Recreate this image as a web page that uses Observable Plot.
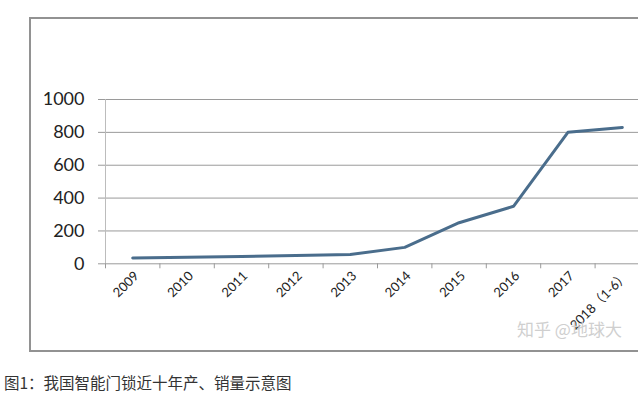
<!DOCTYPE html>
<html>
<head>
<meta charset="utf-8">
<script src="https://cdn.jsdelivr.net/npm/d3@7"></script>
<script src="https://cdn.jsdelivr.net/npm/@observablehq/plot@0.6"></script>
<style>
  html, body { margin: 0; padding: 0; background: #fff; }
  #wrap { position: relative; width: 638px; height: 396px; overflow: hidden; background: #fff; }
  #box { position: absolute; left: 29px; top: 17px; width: 640px; height: 335px; border: 2px solid #929292; box-sizing: border-box; }
  #chart { position: absolute; left: 0; top: 0; width: 660px; }
  #chart svg { max-width: none !important; }
  #wm { position: absolute; left: 517px; top: 316px; font: 17px "Noto Sans CJK SC", sans-serif; color: #cfcfcf; white-space: nowrap; }
  #cap { position: absolute; left: 4px; top: 371px; font: 15.5px "Noto Sans CJK SC", sans-serif; color: #333; white-space: nowrap; }
</style>
</head>
<body>
<div id="wrap">
  <div id="box"></div>
  <div id="chart"></div>
  <div id="wm">知乎 @地球大</div>
  <div id="cap">图1：我国智能门锁近十年产、销量示意图</div>
</div>
<script>
const categories = ["2009", "2010", "2011", "2012", "2013", "2014", "2015", "2016", "2017", "2018（1-6）"];
const values = [35, 40, 45, 50, 57, 100, 250, 350, 800, 830];
const yTicks = [0, 200, 400, 600, 800, 1000];

const data = categories.map((c, i) => ({i, c, v: values[i]}));
const bounds = d3.range(-0.5, categories.length, 1);

const W = 660, H = 360;
const chart = Plot.plot({
  width: W,
  height: H,
  marginLeft: 105,
  marginRight: W - 649,
  marginTop: 99,
  marginBottom: H - 263.3,
  style: {fontFamily: "Lato, 'Noto Sans CJK SC', sans-serif", background: "transparent", overflow: "visible", maxWidth: "none"},
  x: {type: "linear", domain: [-0.5, categories.length - 0.5]},
  y: {domain: [0, 1000]},
  marks: [
    Plot.ruleY(yTicks, {stroke: "#9a9a9a", strokeWidth: 1, strokeOpacity: 1}),
    Plot.ruleX([-0.5], {stroke: "#bcbcbc", strokeWidth: 1}),
    Plot.ruleX(bounds, {x: d => d, y1: 0, y2: 0, insetBottom: -5, stroke: "#9a9a9a"}),
    Plot.axisY({ticks: yTicks, tickFormat: d => String(d), tickSize: 7, tickPadding: 14, fontSize: 18, color: "#222", stroke: "#9a9a9a", label: null}),
    Plot.axisX({ticks: d3.range(categories.length), tickFormat: i => categories[i], tickSize: 0, tickPadding: 10, tickRotate: -45, fontSize: 13, color: "#222", label: null, dx: 4}),
    Plot.line(data, {x: "i", y: "v", stroke: "#4a6d8c", strokeWidth: 3, strokeLinejoin: "round"})
  ]
});
document.getElementById("chart").appendChild(chart);
</script>
</body>
</html>
